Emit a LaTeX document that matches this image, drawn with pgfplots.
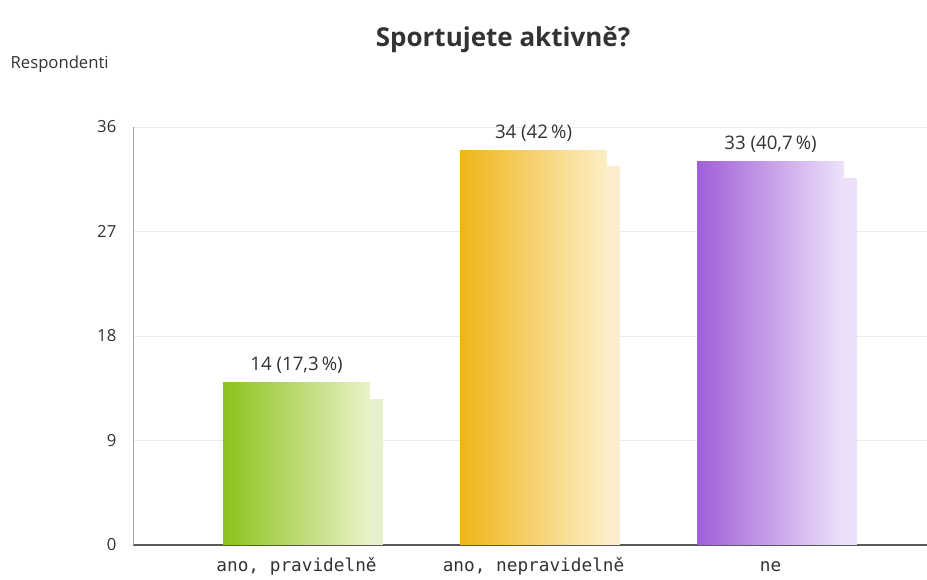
\documentclass[border=0pt]{standalone}
\usepackage{pgfplots}
\pgfplotsset{compat=1.18}
\usepackage{fontspec}
\setmainfont{Open Sans}
\newfontfamily\monofont{DejaVu Sans Mono}
\definecolor{gL}{HTML}{8BC21B}\definecolor{gR}{HTML}{EAF2C8}
\definecolor{yL}{HTML}{F0B418}\definecolor{yR}{HTML}{FCEFC6}
\definecolor{pL}{HTML}{A05ED8}\definecolor{pR}{HTML}{EEE2FA}
\definecolor{txt}{HTML}{333333}
\begin{document}
\begin{tikzpicture}[x=1pt,y=1pt]
\path[use as bounding box] (-99.75pt,-26.25pt) rectangle (595.5pt,408.75pt);
\begin{axis}[
  at={(0,0)}, anchor=south west,
  scale only axis, width=595.5pt, height=313.5pt,
  xmin=-0.69, xmax=2.66, ymin=0, ymax=36,
  axis x line=bottom, axis y line=left,
  axis line style={-},
  x axis line style={draw=black!65, line width=0.8pt},
  y axis line style={draw=black!35, line width=0.6pt},
  ytick={0,9,18,27,36},
  xtick={0,1,2},
  xticklabels={ano{,} pravidelně, ano{,} nepravidelně, ne},
  xticklabel style={font=\monofont\fontsize{13.3}{15}\selectfont, text=txt, anchor=base, yshift=-20.25pt},
  yticklabel style={font=\fontsize{12.5}{14}\selectfont, text=txt, xshift=-9pt},
  /pgf/number format/assume math mode=true,
  major tick length=0pt,
  ymajorgrids, grid style={draw=black!8, line width=0.6pt},
  ylabel={Respondenti},
  ylabel style={rotate=-90, at={(axis description cs:-0.16,1.141)}, anchor=base west, font=\fontsize{12.5}{14}\selectfont, text=txt},
  title={Sportujete aktivně?},
  title style={at={(axis description cs:0.466,1.1746)}, anchor=base, font=\bfseries\fontsize{19.5}{22}\selectfont, text=txt},
  ybar, bar width=0.62, bar shift=0pt,
  nodes near coords style={font=\fontsize{14}{16}\selectfont, text=txt, anchor=base, yshift=9pt},
  clip=false,
]
% shadows
\addplot[fill=gL!22, draw=none, bar shift=0.055] coordinates {(0,12.6)};
\addplot[fill=yL!22, draw=none, bar shift=0.055] coordinates {(1,32.6)};
\addplot[fill=pL!20, draw=none, bar shift=0.055] coordinates {(2,31.6)};
% bars
\addplot[left color=gL, right color=gR, draw=none, nodes near coords={14 (17,3\,\%)}] coordinates {(0,14)};
\addplot[left color=yL, right color=yR, draw=none, nodes near coords={34 (42\,\%)}] coordinates {(1,34)};
\addplot[left color=pL, right color=pR, draw=none, nodes near coords={33 (40,7\,\%)}] coordinates {(2,33)};
\end{axis}
\end{tikzpicture}
\end{document}
